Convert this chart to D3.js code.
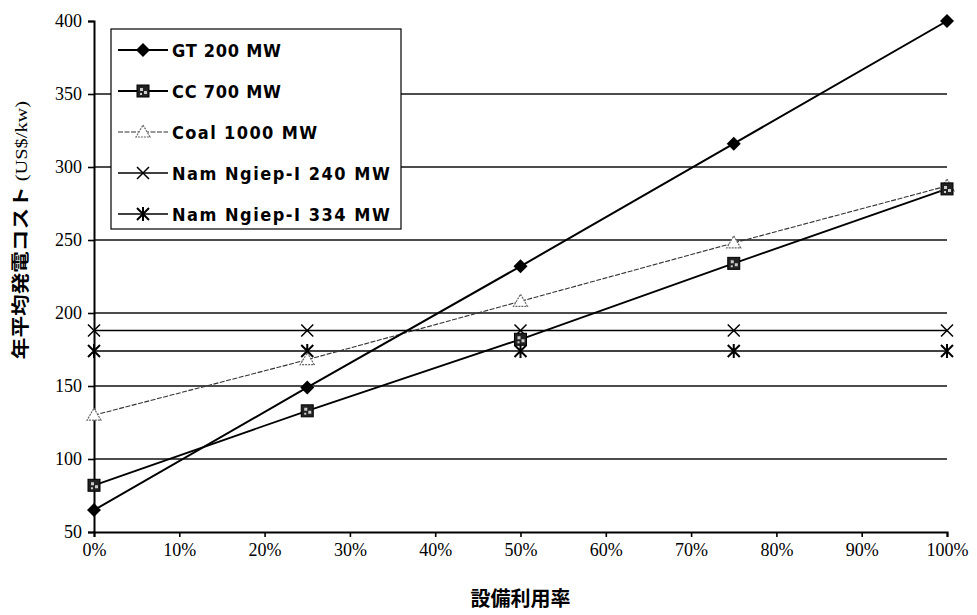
<!DOCTYPE html>
<html>
<head>
<meta charset="utf-8">
<script src="https://cdn.jsdelivr.net/npm/d3@7"></script>
<style>
  html, body { margin: 0; padding: 0; background: #fff; }
  svg { display: block; }
</style>
</head>
<body>
<svg id="chart" width="977" height="615"></svg>
<script>
// Capacity factor (%) on the x axis
const utilization = [0, 25, 50, 75, 100];

// Levelized annual generation cost (US$/kw) per plant
const seriesNames = ["GT 200 MW", "CC 700 MW", "Coal 1000 MW", "Nam Ngiep-I 240 MW", "Nam Ngiep-I 334 MW"];
const gt200   = [65, 149, 232, 316, 400];
const cc700   = [82, 133, 182, 234, 285];
const coal1000 = [130, 168, 208, 248, 287];
const nn240   = [188, 188, 188, 188, 188];
const nn334   = [174, 174, 174, 174, 174];

const xTicks = [0, 10, 20, 30, 40, 50, 60, 70, 80, 90, 100];
const yTicks = [50, 100, 150, 200, 250, 300, 350, 400];

const yTitle = "年平均発電コスト";
const yUnit = " (US$/kw)";
const xTitle = "設備利用率";

const svg = d3.select("#chart");
const W = 977, H = 615;
const m = { left: 94, right: W - 947, top: 21, bottom: H - 532 };

const x = d3.scaleLinear().domain([0, 100]).range([m.left, W - m.right]);
const y = d3.scaleLinear().domain([50, 400]).range([H - m.bottom, m.top]);

// Horizontal gridlines
svg.append("g")
  .selectAll("line")
  .data(yTicks.filter(v => v > 50 && v < 400))
  .join("line")
  .attr("x1", x(0)).attr("x2", x(100))
  .attr("y1", d => y(d)).attr("y2", d => y(d))
  .attr("stroke", "#111").attr("stroke-width", 1.4);

// Axes
const serif = "'Liberation Serif', 'Times New Roman', serif";
const yAxis = svg.append("g")
  .attr("transform", `translate(${x(0)},0)`)
  .call(d3.axisLeft(y).tickValues(yTicks).tickSize(6).tickPadding(6).tickFormat(d3.format("d")));
const xAxis = svg.append("g")
  .attr("transform", `translate(0,${y(50)})`)
  .call(d3.axisBottom(x).tickValues(xTicks).tickSize(5).tickPadding(6).tickFormat(d => d + "%"));
[yAxis, xAxis].forEach(a => {
  a.select(".domain").attr("stroke", "#000").attr("stroke-width", 2);
  a.selectAll(".tick line").attr("stroke", "#000").attr("stroke-width", 1.6);
  a.selectAll("text").attr("fill", "#000").style("font-family", serif).style("font-size", "18px");
});

// Series definitions: values, stroke and marker style
const series = [
  { name: seriesNames[0], values: gt200,   stroke: "#000", width: 2,   dash: null,  marker: "diamond" },
  { name: seriesNames[1], values: cc700,   stroke: "#000", width: 1.8, dash: null,  marker: "square" },
  { name: seriesNames[2], values: coal1000, stroke: "#333", width: 1.1, dash: "5,1.5", marker: "triangle" },
  { name: seriesNames[3], values: nn240,   stroke: "#000", width: 1.5, dash: null,  marker: "x" },
  { name: seriesNames[4], values: nn334,   stroke: "#000", width: 1.5, dash: null,  marker: "star" }
];

function drawMarker(g, type, cx, cy) {
  const s = 6;
  if (type === "diamond") {
    g.append("path")
      .attr("d", `M${cx},${cy - s - 1}L${cx + s + 1},${cy}L${cx},${cy + s + 1}L${cx - s - 1},${cy}Z`)
      .attr("fill", "#000");
  } else if (type === "square") {
    g.append("rect").attr("x", cx - 6).attr("y", cy - 6).attr("width", 12).attr("height", 12)
      .attr("fill", "#222").attr("stroke", "#000").attr("stroke-width", 1);
    g.append("path")
      .attr("d", `M${cx - 3},${cy - 3}h3v3h-3zM${cx + 1},${cy}h3v3h-3zM${cx - 3},${cy + 2}h2v2h-2z`)
      .attr("fill", "#ccc");
  } else if (type === "triangle") {
    g.append("path")
      .attr("d", `M${cx},${cy - 7}L${cx + 7},${cy + 5}L${cx - 7},${cy + 5}Z`)
      .attr("fill", "#fff").attr("stroke", "#666").attr("stroke-width", 1.2)
      .attr("stroke-dasharray", "2,1");
  } else if (type === "x" || type === "star") {
    const k = 6;
    g.append("path")
      .attr("d", `M${cx - k},${cy - k}L${cx + k},${cy + k}M${cx - k},${cy + k}L${cx + k},${cy - k}` +
        (type === "star" ? `M${cx},${cy - k - 1}L${cx},${cy + k + 1}` : ""))
      .attr("stroke", "#000").attr("stroke-width", type === "star" ? 2 : 1.5).attr("fill", "none");
  }
}

const line = d3.line().x((d, i) => x(utilization[i])).y(d => y(d));

// Lines, drawn back to front so the steeper series sit on top
const plot = svg.append("g");
series.slice().reverse().forEach(s => {
  plot.append("path")
    .attr("d", line(s.values))
    .attr("fill", "none")
    .attr("stroke", s.stroke)
    .attr("stroke-width", s.width)
    .attr("stroke-dasharray", s.dash);
});
series.slice().reverse().forEach(s => {
  const g = plot.append("g");
  s.values.forEach((v, i) => drawMarker(g, s.marker, x(utilization[i]), y(v)));
});

// Legend
const legend = svg.append("g");
const lx = 111, ly = 29, rowH = 41;
legend.append("rect")
  .attr("x", lx).attr("y", ly)
  .attr("width", 290).attr("height", 200)
  .attr("fill", "#fff").attr("stroke", "#000").attr("stroke-width", 1.2);
series.forEach((s, i) => {
  const cy = ly + 21 + i * rowH;
  const g = legend.append("g");
  g.append("line")
    .attr("x1", lx + 7).attr("x2", lx + 57).attr("y1", cy).attr("y2", cy)
    .attr("stroke", s.stroke).attr("stroke-width", s.width).attr("stroke-dasharray", s.dash);
  drawMarker(g, s.marker, lx + 32, cy);
  g.append("text")
    .attr("x", lx + 61).attr("y", cy + 7)
    .attr("textLength", s.name.length * 12.1)
    .attr("lengthAdjust", "spacing")
    .style("font-family", "'DejaVu Sans Condensed', 'Liberation Sans Narrow', sans-serif")
    .style("font-weight", "bold")
    .style("font-size", "18px")
    .attr("fill", "#000")
    .text(s.name);
});

// Axis titles (the y title is stretched a little along its reading direction)
svg.append("text")
  .attr("transform", `translate(27,${230}) rotate(-90) scale(1.2,1)`)
  .attr("text-anchor", "middle")
  .attr("fill", "#000")
  .call(t => {
    t.append("tspan").style("font-family", "'Noto Sans CJK JP', sans-serif").style("font-weight", "bold")
      .style("font-size", "18px").text(yTitle);
    t.append("tspan").style("font-family", serif).style("font-size", "17px").text(yUnit);
  });

svg.append("text")
  .attr("x", (x(0) + x(100)) / 2).attr("y", 606)
  .attr("text-anchor", "middle")
  .attr("fill", "#000")
  .style("font-family", "'Noto Sans CJK JP', sans-serif")
  .style("font-weight", "bold")
  .style("font-size", "20px")
  .text(xTitle);
</script>
</body>
</html>
